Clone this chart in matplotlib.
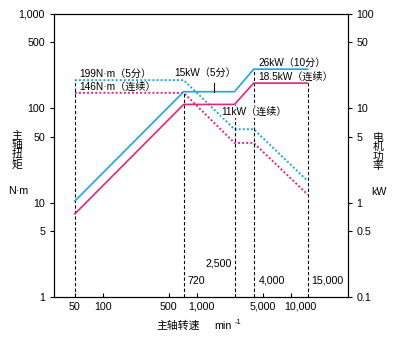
import matplotlib
matplotlib.use("Agg")
import matplotlib.pyplot as plt
import matplotlib.transforms as mtransforms

plt.rcParams['font.family'] = ['Liberation Sans', 'Noto Sans CJK SC', 'DejaVu Sans']

# speed points (min-1)
speed = [50, 720, 2500, 4000, 15000]

# motor power (kW), solid lines, right axis
power_s3 = [1.04, 15, 15, 26, 26]      # 5 / 10 min rating
power_cont = [0.76, 11, 11, 18.5, 18.5]  # continuous

# spindle torque (N·m), dotted lines, left axis
torque_s3 = [199, 199, 60, 60, 17]
torque_cont = [146, 146, 43, 43, 12.2]

torque_ticks = [1, 5, 10, 50, 100, 500, 1000]
torque_labels = ["1", "5", "10", "50", "100", "500", "1,000"]
power_ticks = [0.1, 0.5, 1, 5, 10, 50, 100]
power_labels = ["0.1", "0.5", "1", "5", "10", "50", "100"]
speed_ticks = [50, 100, 500, 1000, 5000, 10000]
speed_labels = ["50", "100", "500", "1,000", "5,000", "10,000"]

blue = '#1ea6e2'
red = '#e4247f'

fig = plt.figure(figsize=(3.95, 3.37), dpi=100)
ax = fig.add_axes([0.1367, 0.1187, 0.7435, 0.8398])
ax2 = ax.twinx()

ax.set_xscale('log')
ax.set_yscale('log')
ax2.set_yscale('log')
ax.set_xlim(30, 40000)
ax.set_ylim(1, 1000)
ax2.set_ylim(0.1, 100)

# torque (dotted)
ax.plot(speed, torque_s3, color=blue, lw=1.4, ls=(0, (1, 1.1)))
ax.plot(speed, torque_cont, color=red, lw=1.4, ls=(0, (1, 1.1)))
# power (solid)
ax2.plot(speed, power_s3, color=blue, lw=1.2)
ax2.plot(speed, power_cont, color=red, lw=1.2)

# vertical dashed guide lines (top on the torque scale; power x10)
guide_top = [torque_s3[0], power_s3[1] * 10, power_cont[2] * 10,
             power_s3[3] * 10, power_cont[4] * 10]
ax.vlines(speed, 1, guide_top, colors='black', lw=0.8, linestyles=(0, (3, 2)))

# pointer for 15kW label
ax2.plot([1500, 1500], [15, 18.6], color='black', lw=0.8)

fs = 7.3
tfs = 7.7
ax.text(55.7, 231, "199N·m（5分）", fontsize=fs, va='center', ha='left')
ax.text(55.7, 169, "146N·m（连续）", fontsize=fs, va='center', ha='left')
ax.text(574, 236, "15kW（5分）", fontsize=fs, va='center', ha='left')
ax.text(4447, 301, "26kW（10分）", fontsize=fs, va='center', ha='left')
ax.text(4447, 217, "18.5kW（连续）", fontsize=fs, va='center', ha='left')
ax2.text(1816, 9.1, "11kW（连续）", fontsize=fs, va='center', ha='left', zorder=5,
         bbox=dict(facecolor='white', edgecolor='none', pad=0.5))
ax.text(793, 1.48, "720", fontsize=tfs, va='center', ha='left')
ax.text(2317, 2.29, "2,500", fontsize=tfs, va='center', ha='right')
ax.text(4480, 1.48, "4,000", fontsize=tfs, va='center', ha='left')
ax.text(16300, 1.48, "15,000", fontsize=tfs, va='center', ha='left')

# ticks
ax.set_yticks(torque_ticks)
ax.set_yticklabels(torque_labels)
ax2.set_yticks(power_ticks)
ax2.set_yticklabels(power_labels)
ax.set_xticks(speed_ticks)
ax.set_xticklabels(speed_labels)
ax.minorticks_off()
ax2.minorticks_off()
ax.tick_params(axis='y', direction='out', length=3, width=0.8, pad=3.5, labelsize=tfs)
ax2.tick_params(axis='y', direction='out', length=3, width=0.8, pad=3.5, labelsize=tfs)
ax.tick_params(axis='x', direction='in', length=3, width=0.8, pad=3.5, labelsize=tfs)
for a in (ax, ax2):
    for s in a.spines.values():
        s.set_linewidth(0.8)

# the comma labels sit a little right of their ticks in the original
shift = {"1,000": 4, "10,000": 9}
for lab in ax.get_xticklabels():
    dx = shift.get(lab.get_text(), 0)
    if dx:
        lab.set_transform(lab.get_transform() +
                          mtransforms.ScaledTranslation(dx / 100, 0, fig.dpi_scale_trans))

# axis titles
W, H = 395, 337
fig.text(17 / W, 1 - 150 / H, "主\n轴\n扭\n矩", fontsize=7.8, ha='center', va='center',
         linespacing=0.95)
fig.text(18 / W, 1 - 191 / H, "N·m", fontsize=tfs, ha='center', va='center')
fig.text(378 / W, 1 - 152 / H, "电\n机\n功\n率", fontsize=7.8, ha='center', va='center',
         linespacing=0.95)
fig.text(379 / W, 1 - 192 / H, "kW", fontsize=tfs, ha='center', va='center')
fig.text(178 / W, 1 - 326 / H, "主轴转速", fontsize=7.8, ha='center', va='center')
fig.text(214 / W, 1 - 326 / H, "min", fontsize=tfs, ha='left', va='center')
fig.text(235 / W, 1 - 323 / H, "-1", fontsize=tfs * 0.7, ha='left', va='center')

fig.savefig("out.png", dpi=100)
